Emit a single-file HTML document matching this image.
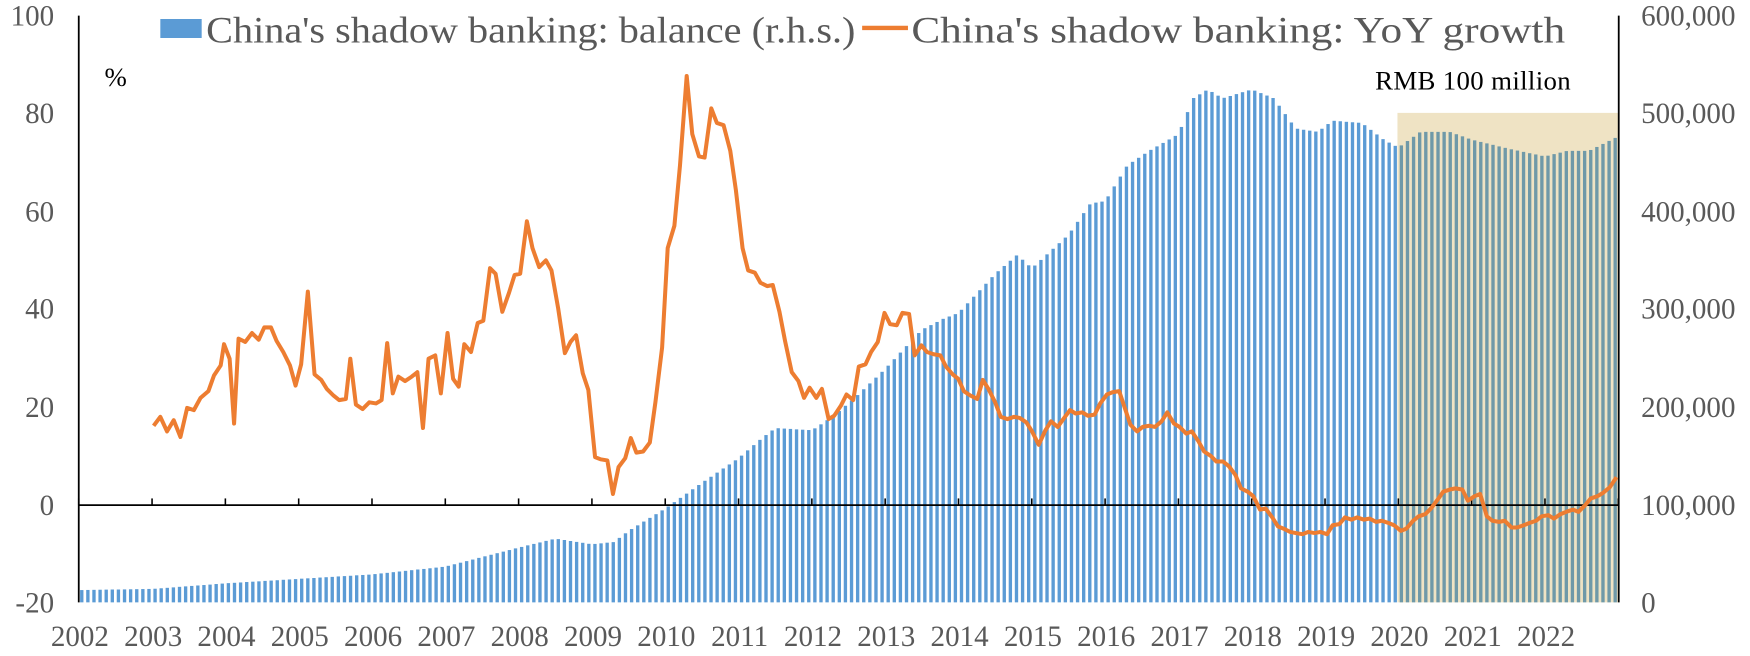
<!DOCTYPE html>
<html><head><meta charset="utf-8"><style>
html,body{margin:0;padding:0;background:#fff;width:1750px;height:656px;overflow:hidden}
svg{display:block}
text{font-family:"Liberation Serif",serif;fill:#595959}
</style></head><body>
<svg id="s" width="1750" height="656" viewBox="0 0 1565 587" xmlns="http://www.w3.org/2000/svg">
<rect x="1250" y="101" width="198" height="438" fill="#efe3c4"/>
<g id="bars"></g>
<line x1="70" y1="452" x2="1448" y2="452" stroke="#000" stroke-width="1.6"/>
<g id="ticks"></g>
<line x1="70" y1="14" x2="70" y2="539" stroke="#000" stroke-width="1.6"/>
<line x1="1448" y1="14" x2="1448" y2="539" stroke="#000" stroke-width="1.6"/>
<path id="ln" fill="none" stroke="#ed7d31" stroke-width="3.6" stroke-linejoin="round"/>
<g font-size="26" text-anchor="end">
<text x="48" y="23">100</text><text x="48" y="110">80</text><text x="48" y="198">60</text>
<text x="48" y="285">40</text><text x="48" y="373">20</text><text x="48" y="461">0</text><text x="48" y="548">-20</text>
</g>
<g font-size="26" text-anchor="start">
<text x="1468" y="23">600,000</text><text x="1468" y="110">500,000</text><text x="1468" y="198">400,000</text>
<text x="1468" y="285">300,000</text><text x="1468" y="373">200,000</text><text x="1468" y="461">100,000</text><text x="1468" y="548">0</text>
</g>
<g id="xl" font-size="26" text-anchor="middle"></g>
<text x="93" y="77" font-size="24" style="fill:#000">%</text>
<text x="1405" y="80" font-size="24" text-anchor="end" textLength="175" style="fill:#000">RMB 100 million</text>
<rect x="143" y="17" width="37" height="17" fill="#5b9bd5"/>
<text x="184" y="38" font-size="33" textLength="581" lengthAdjust="spacingAndGlyphs">China's shadow banking: balance (r.h.s.)</text>
<line x1="771" y1="25" x2="812" y2="25" stroke="#ed7d31" stroke-width="4"/>
<text x="815" y="38" font-size="33" textLength="585" lengthAdjust="spacingAndGlyphs">China's shadow banking: YoY growth</text>
</svg>
<script>
function X(t){return 70+(t-2002)*65.6;}
var bk=[[2002,528],[2003,527],[2004,522],[2005,518],[2006,514],[2007,507],[2008,490],[2008.5,482],[2009,487],[2009.3,485],[2009.5,475],[2010,455],[2010.5,432],[2011,410],[2011.3,393],[2011.5,383],[2012,385],[2012.3,372],[2012.6,355],[2013,330],[2013.5,295],[2013.8,285],[2014,280],[2014.5,245],[2014.8,228],[2015,240],[2015.5,210],[2015.8,182],[2016,180],[2016.3,148],[2016.6,135],[2017,120],[2017.2,88],[2017.4,80],[2017.6,88],[2018,80],[2018.3,88],[2018.6,115],[2018.9,118],[2019.1,108],[2019.5,110],[2019.8,125],[2020,132],[2020.3,118],[2020.7,118],[2021,125],[2021.5,133],[2022,140],[2022.3,135],[2022.6,135],[2023,122]];
function by(t){for(var i=0;i<bk.length-1;i++){if(t<=bk[i+1][0]){var a=bk[i],b=bk[i+1];return a[1]+(b[1]-a[1])*(t-a[0])/(b[0]-a[0]);}}return bk[bk.length-1][1];}
var h='';
for(var m=0;m<252;m++){var t=2002+m/12;var x=X(t)+1.2;var y=by(t+0.04);
h+='<rect x="'+x.toFixed(2)+'" y="'+y.toFixed(1)+'" width="3" height="'+(539-y).toFixed(1)+'" fill="'+(x>1250?'#6f99a8':'#5b9bd5')+'"/>';}
document.getElementById('bars').innerHTML=h;
var tk='',xl='';
for(var yr=2002;yr<=2023;yr++){var x=X(yr);tk+='<line x1="'+x+'" y1="452" x2="'+x+'" y2="446" stroke="#000" stroke-width="1.4"/>';
if(yr<2023)xl+='<text x="'+(x+1)+'" y="578">'+yr+'</text>';}
document.getElementById('ticks').innerHTML=tk;document.getElementById('xl').innerHTML=xl;
var p=[[137,381],[143,373],[149,386],[155,376],[161,391],[167,365],[173,367],[179,356],[186,350],[191,336],[197,327],[200,308],[205,321],[209,379],[213,303],[219,306],[225,298],[231,304],[236,293],[242,293],[247,305],[253,315],[259,327],[264,345],[269,326],[275,261],[281,335],[287,340],[292,348],[298,354],[303,358],[309,357],[313,321],[318,362],[324,366],[330,360],[336,361],[341,358],[346,307],[351,352],[356,337],[362,341],[368,337],[373,333],[378,383],[383,321],[389,318],[394,352],[400,298],[405,339],[410,346],[415,308],[421,315],[427,289],[432,287],[438,240],[443,245],[449,279],[455,262],[460,246],[465,245],[471,198],[476,222],[482,239],[488,233],[493,242],[499,276],[505,316],[510,306],[515,300],[521,334],[526,349],[532,409],[537,411],[543,412],[548,442],[553,418],[559,410],[564,392],[569,405],[575,404],[581,396],[586,360],[592,311],[597,222],[603,202],[608,148],[614,68],[619,120],[625,140],[630,141],[636,97],[641,110],[647,112],[653,135],[658,170],[664,222],[669,242],[675,244],[680,253],[686,256],[691,255],[697,279],[702,305],[708,333],[714,341],[719,356],[724,347],[730,356],[735,348],[741,375],[746,372],[752,363],[757,353],[763,358],[768,328],[774,326],[779,315],[785,306],[791,280],[796,290],[802,291],[807,280],[813,281],[818,318],[824,309],[829,315],[835,317],[841,318],[846,328],[852,335],[857,339],[862,350],[868,354],[874,357],[879,340],[884,348],[890,360],[895,373],[901,375],[907,373],[912,374],[918,378],[923,386],[929,398],[935,385],[940,377],[946,382],[951,375],[957,367],[962,370],[968,369],[973,372],[979,371],[984,361],[990,353],[995,351],[1001,350],[1006,365],[1011,380],[1017,386],[1022,382],[1028,381],[1033,382],[1039,377],[1044,369],[1050,379],[1055,382],[1061,388],[1066,386],[1072,395],[1077,404],[1083,408],[1088,413],[1094,413],[1099,417],[1105,425],[1110,437],[1116,440],[1121,444],[1127,456],[1132,455],[1138,463],[1143,471],[1148,473],[1154,476],[1159,477],[1165,478],[1170,476],[1176,477],[1181,476],[1187,478],[1192,470],[1198,469],[1203,463],[1209,465],[1214,463],[1220,465],[1225,464],[1231,467],[1236,466],[1242,468],[1247,470],[1253,475],[1258,473],[1264,466],[1269,462],[1275,460],[1280,455],[1286,447],[1291,440],[1297,438],[1302,437],[1308,438],[1313,448],[1319,444],[1324,442],[1330,462],[1335,466],[1341,467],[1346,466],[1352,472],[1357,472],[1363,470],[1368,468],[1374,466],[1379,462],[1385,461],[1390,464],[1396,460],[1401,458],[1407,456],[1412,458],[1418,452],[1423,446],[1429,444],[1434,441],[1440,436],[1446,427]];
document.getElementById('ln').setAttribute('d','M'+p.map(function(a){return a[0]+','+a[1];}).join(' L'));
</script>
</body></html>
